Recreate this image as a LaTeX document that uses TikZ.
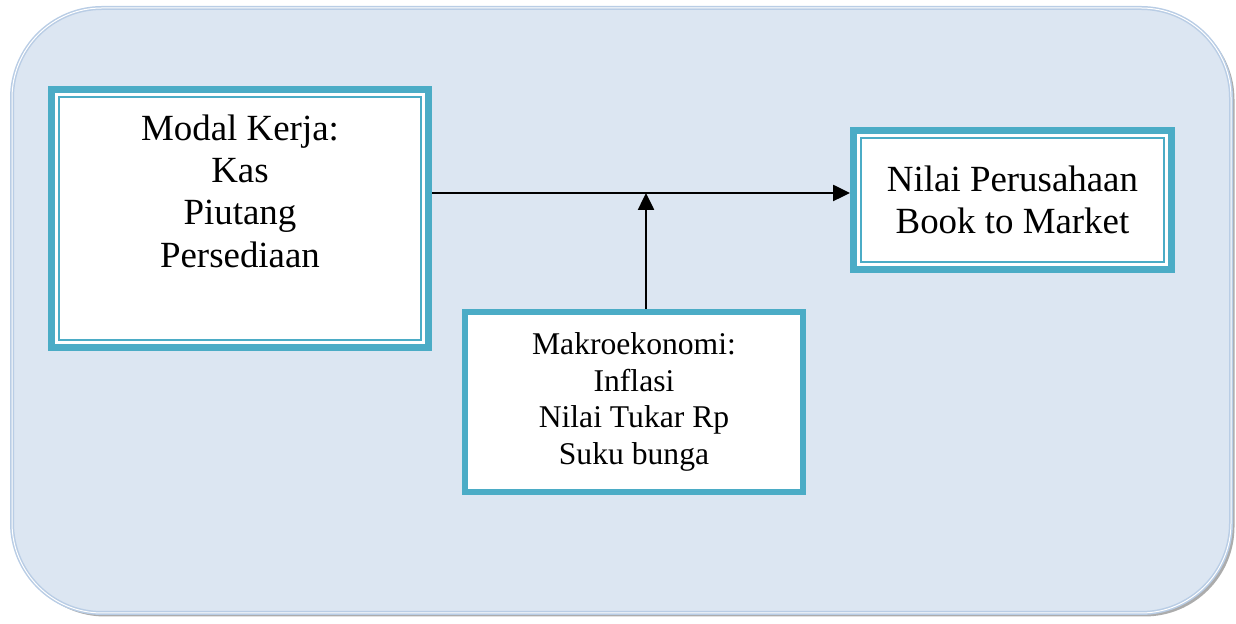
\documentclass[tikz,border=0pt]{standalone}
\usepackage{fontspec}
\setmainfont{Liberation Serif}
\usepackage{tikz}
\usetikzlibrary{arrows.meta, positioning}
\definecolor{frameteal}{HTML}{4BACC6}
\definecolor{panelblue}{HTML}{DCE6F2}
\definecolor{paneledge}{HTML}{B9CDE5}

\begin{document}
\begin{tikzpicture}[
    box/.style={draw=frameteal, line width=0.14cm, fill=white, align=center, inner sep=0pt},
    bigtext/.style={font=\fontsize{21}{24}\selectfont},
    smalltext/.style={font=\fontsize{18}{20.8}\selectfont},
    arrow/.style={-{Triangle[length=0.34cm, width=0.32cm]}, line width=0.05cm},
    innerline/.style={draw=frameteal, line width=0.035cm}
]
    \useasboundingbox (0,0) rectangle (24.72,12.48);

    % background panel
    \fill[gray!65, rounded corners=1.8cm] (0.3,0.15) rectangle (24.69,12.28);
    \draw[paneledge, line width=0.08cm, fill=panelblue, rounded corners=1.8cm] (0.24,0.22) rectangle (24.62,12.32);
    \draw[white, line width=0.02cm, rounded corners=1.8cm] (0.24,0.22) rectangle (24.62,12.32);

    \node[box, bigtext, minimum width=7.54cm, minimum height=5.16cm] (modal) at (4.8,8.11) {Modal Kerja:\\Kas\\Piutang\\Persediaan\\ \strut};
    \node[box, bigtext, minimum width=6.36cm, minimum height=2.78cm] (nilai) at (20.25,8.48) {Nilai Perusahaan\\Book to Market};
    \node[box, smalltext, line width=0.12cm, minimum width=6.76cm, minimum height=3.6cm] (makro) at (12.68,4.44) {Makroekonomi:\\Inflasi\\Nilai Tukar Rp\\Suku bunga};

    % thin inner frames of the double-bordered boxes
    \foreach \n in {modal, nilai}
        \draw[innerline] ([shift={(0.22,-0.22)}]\n.north west) rectangle ([shift={(-0.22,0.22)}]\n.south east);

    \coordinate (join) at (12.92,8.62);
    \draw[arrow] (join -| modal.east) -- (join -| nilai.west);
    \draw[arrow] (makro.north -| join) -- (join);
\end{tikzpicture}
\end{document}
